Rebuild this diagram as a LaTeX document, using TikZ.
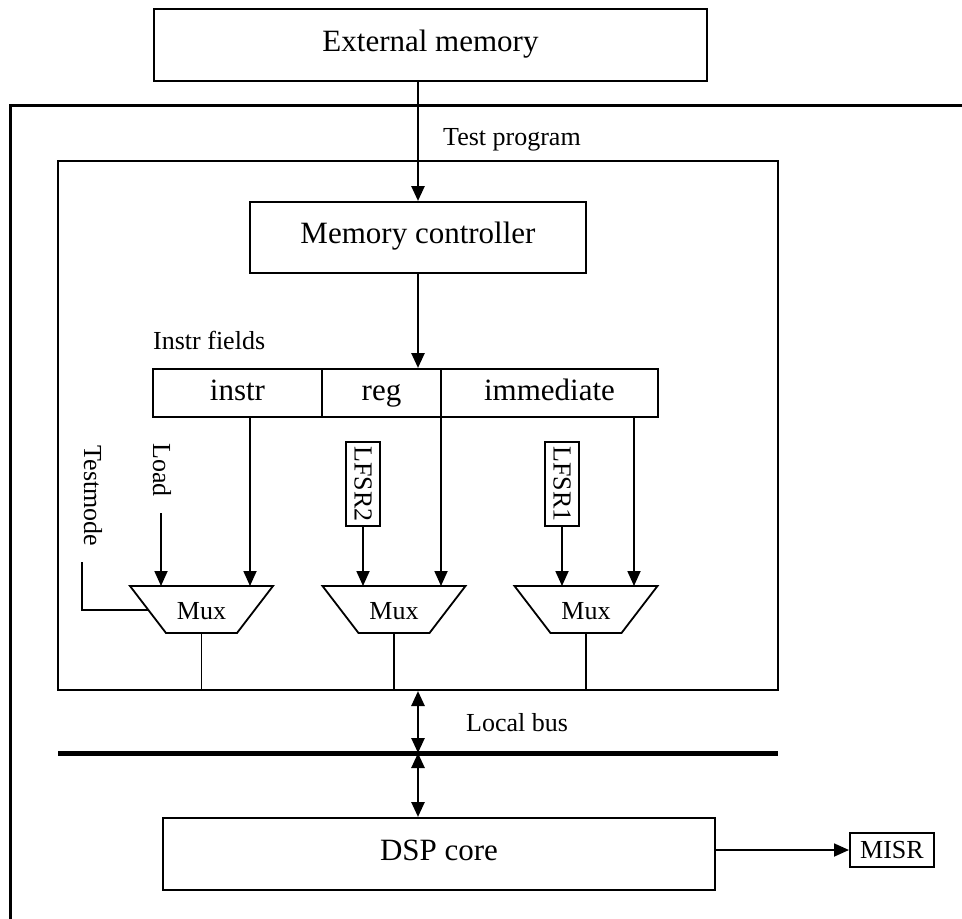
\documentclass[tikz,border=0pt]{standalone}
\usepackage{fontspec}
\setmainfont{Liberation Serif}
\usetikzlibrary{arrows.meta,calc}
\begin{document}
\begin{tikzpicture}[x=1pt,y=-1pt,
  bigtext/.style={font=\fontsize{31}{36}\selectfont},
  smalltext/.style={font=\fontsize{26}{30}\selectfont},
  block/.style={draw,line width=2pt,inner sep=0pt,bigtext,text height=21,text depth=9},
  field/.style={draw,line width=2pt,inner sep=0pt,bigtext,minimum height=48,text height=21,text depth=7},
  reg box/.style={draw,line width=1.6pt,inner sep=0pt,smalltext},
  thinline/.style={line width=1.8pt},
  thickline/.style={line width=2.6pt},
  tipend/.style={-{Triangle[length=15pt,width=13pt]}},
  tipboth/.style={{Triangle[length=15pt,width=13pt]}-{Triangle[length=15pt,width=13pt]}}
]
\useasboundingbox (0,0) rectangle (962,919);

% chip outline (open on the right and at the bottom)
\coordinate (frTR) at (962,105);
\coordinate (frTL) at (10,105);
\coordinate (frBL) at (10,919);
\draw[line width=3pt] (frTR) -- (frTL) -- (frBL);

% external memory and test program path
\node[block,minimum width=553,minimum height=72] (ext) at (430.5,45) {External memory};
\node[smalltext,anchor=west,inner sep=0pt] (tprog) at (443,140) {Test program};

% test-program loader block
\node[draw,line width=2pt,minimum width=720,minimum height=529,inner sep=0pt] (inner) at (418,425.5) {};
\node[block,minimum width=336,minimum height=71] (memctrl) at (418,237.5) {Memory controller};
\draw[thickline,tipend] (memctrl.north |- ext.south) -- (memctrl.north);

% instruction fields
\node[smalltext,anchor=west,inner sep=0pt] (ifields) at (153,340) {Instr fields};
\node[field,minimum width=169] (finstr) at (237.5,393) {instr};
\node[field,minimum width=119] (freg) at (381.5,393) {reg};
\node[field,minimum width=217] (fimm) at (549.5,393) {immediate};
\draw[thickline,tipend] (memctrl.south) -- (memctrl.south |- freg.north);

% multiplexers
\foreach \c/\n in {201.5/1,394/2,586/3}{
  \draw[thinline] (\c-71.5,586) -- (\c+71.5,586) -- (\c+35.5,633) -- (\c-35.5,633) -- cycle;
  \node[smalltext,inner sep=0pt] (mux\n) at (\c,611) {Mux};
  \coordinate (mux\n out) at (\c,633);
}
\coordinate (m1a) at (161,586);
\coordinate (m1b) at (250,586);
\coordinate (m2a) at (363,586);
\coordinate (m2b) at (441,586);
\coordinate (m3a) at (562,586);
\coordinate (m3b) at (634,586);

% control inputs and pattern generators
\node[smalltext,rotate=-90,inner sep=0pt] (tmode) at (93,496) {Testmode};
\node[smalltext,rotate=-90,inner sep=0pt] (load) at (162,470) {Load};
\node[reg box,rotate=-90,minimum width=84,minimum height=34] (lfsr2) at (363,484) {LFSR2};
\node[reg box,rotate=-90,minimum width=84,minimum height=34] (lfsr1) at (562,484) {LFSR1};
\coordinate (tmtop) at (82,562);
\coordinate (tmend) at (148,610);
\coordinate (ldtop) at (161,513);

\draw[thinline] (tmtop) -- (tmtop |- tmend) -- (tmend);
\draw[thinline,tipend] (ldtop) -- (m1a);
\draw[thinline,tipend] (m1b |- finstr.south) -- (m1b);
\draw[thinline,tipend] (lfsr2.east) -- (m2a);
\draw[thinline,tipend] (m2b |- freg.south) -- (m2b);
\draw[thinline,tipend] (lfsr1.east) -- (m3a);
\draw[thinline,tipend] (m3b |- fimm.south) -- (m3b);

\foreach \n in {1,2,3}{
  \draw[thinline] (mux\n out) -- (mux\n out |- inner.south);
}

% local bus
\coordinate (busL) at (58,753);
\coordinate (busR) at (778,753);
\draw[line width=5pt] (busL) -- (busR);
\node[smalltext,anchor=west,inner sep=0pt] (lbus) at (466,723) {Local bus};

% DSP core and signature register
\node[block,minimum width=552,minimum height=72] (dsp) at (439,854) {DSP core};
\node[draw,line width=2pt,smalltext,minimum width=84,minimum height=34,inner sep=0pt] (misr) at (892,850) {MISR};

\draw[thickline,tipboth] (inner.south) -- (inner.south |- busL);
\draw[thickline,tipboth] (inner.south |- busL) -- (inner.south |- dsp.north);
\draw[thinline,tipend] (dsp.east |- misr.west) -- (misr.west);
\end{tikzpicture}
\end{document}
